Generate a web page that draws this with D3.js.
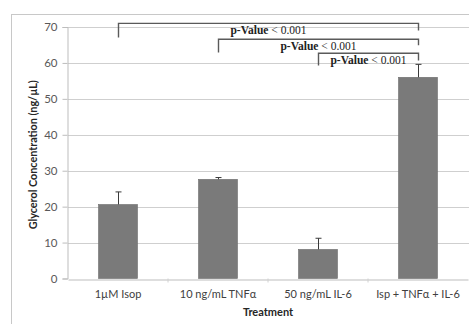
<!DOCTYPE html>
<html>
<head>
<meta charset="utf-8">
<script src="https://cdn.jsdelivr.net/npm/d3@7"></script>
<style>
  html, body { margin: 0; padding: 0; background: #fff; }
  svg { display: block; }
</style>
</head>
<body>
<div id="chart"></div>
<script>
// Data
const treatments = ["1µM Isop", "10 ng/mL TNFα", "50 ng/mL IL-6", "Isp + TNFα + IL-6"];
const glycerol = [20.6, 27.6, 8.1, 56.0];
const glycerolErr = [3.5, 0.5, 3.1, 3.6];
const yTicks = [0, 10, 20, 30, 40, 50, 60, 70];

// significance brackets: from, to, level of bar, left leg end, right leg end
const cmpFrom = ["1µM Isop", "10 ng/mL TNFα", "50 ng/mL IL-6"];
const cmpTo = ["Isp + TNFα + IL-6", "Isp + TNFα + IL-6", "Isp + TNFα + IL-6"];
const cmpLevel = [71.0, 66.6, 62.7];
const cmpLeftEnd = [67.1, 62.9, 59.3];
const cmpRightEnd = [69.0, 64.9, 60.7];
const cmpLabel = ["< 0.001", "< 0.001", "< 0.001"];

const W = 469, H = 324;
const margin = { top: 27, right: 1, bottom: 45.5, left: 68 };

const svg = d3.select("#chart").append("svg")
    .attr("width", W)
    .attr("height", H);

// chart area border
svg.append("rect")
    .attr("x", 11.5).attr("y", 14.5)
    .attr("width", W + 10).attr("height", H + 10)
    .attr("fill", "none")
    .attr("stroke", "#c8c8c8");

const x = d3.scaleBand()
    .domain(treatments)
    .range([margin.left, W - margin.right])
    .padding(0);

const y = d3.scaleLinear()
    .domain([0, 70])
    .range([H - margin.bottom, margin.top]);

const barW = x.bandwidth() * 0.39;

// gridlines
svg.append("g")
    .selectAll("line")
    .data(yTicks.filter(d => d > 0))
    .join("line")
    .attr("x1", margin.left).attr("x2", W)
    .attr("y1", d => Math.round(y(d)) + 0.5)
    .attr("y2", d => Math.round(y(d)) + 0.5)
    .attr("stroke", "#cfcfcf");

// y axis
const yAxis = d3.axisLeft(y).tickValues(yTicks).tickSize(5).tickPadding(5);
const gy = svg.append("g")
    .attr("transform", `translate(${margin.left - 0.5},0)`)
    .call(yAxis);
gy.select(".domain").attr("stroke", "#bdbdbd");
gy.selectAll(".tick line").attr("stroke", "#bdbdbd");
gy.selectAll(".tick text")
    .attr("fill", "#595959")
    .style("font-family", "Lato, 'Open Sans', sans-serif")
    .style("font-size", "11.5px");

// x axis
const xAxis = d3.axisBottom(x).tickSize(0).tickPadding(11);
const gx = svg.append("g")
    .attr("transform", `translate(0,${Math.round(y(0)) + 0.5})`)
    .call(xAxis);
gx.select(".domain").attr("stroke", "#bdbdbd");
gx.selectAll(".tick text")
    .attr("fill", "#404040")
    .style("font-family", "Lato, 'Open Sans', sans-serif")
    .style("font-size", "11px");

// minor separators between categories
svg.append("g")
    .selectAll("line")
    .data(treatments.slice(1))
    .join("line")
    .attr("x1", d => x(d)).attr("x2", d => x(d))
    .attr("y1", y(0)).attr("y2", y(0) + 4)
    .attr("stroke", "#d0d0d0");

// bars
svg.append("g")
    .selectAll("rect")
    .data(treatments)
    .join("rect")
    .attr("x", (d, i) => x(d) + x.bandwidth() / 2 - barW / 2)
    .attr("y", (d, i) => y(glycerol[i]))
    .attr("width", barW)
    .attr("height", (d, i) => y(0) - y(glycerol[i]))
    .attr("fill", "#7a7a7a")
    .attr("stroke", "#6e6e6e")
    .attr("stroke-width", 0.6);

// error bars (upper only)
const errG = svg.append("g").attr("stroke", "#3a3a3a").attr("stroke-width", 1);
treatments.forEach((d, i) => {
    const cx = Math.round(x(d) + x.bandwidth() / 2) + 0.5;
    errG.append("line")
        .attr("x1", cx).attr("x2", cx)
        .attr("y1", y(glycerol[i])).attr("y2", y(glycerol[i] + glycerolErr[i]));
    errG.append("line")
        .attr("x1", cx - 3).attr("x2", cx + 3)
        .attr("y1", y(glycerol[i] + glycerolErr[i])).attr("y2", y(glycerol[i] + glycerolErr[i]));
});

// significance brackets
const brG = svg.append("g");
cmpFrom.forEach((f, i) => {
    const x1 = Math.round(x(f) + x.bandwidth() / 2) + 0.5;
    const x2 = Math.round(x(cmpTo[i]) + x.bandwidth() / 2) + 0.5;
    brG.append("path")
        .attr("d", `M${x1},${y(cmpLeftEnd[i])}V${y(cmpLevel[i])}H${x2}V${y(cmpRightEnd[i])}`)
        .attr("fill", "none")
        .attr("stroke", "#5a5a5a")
        .attr("stroke-width", 1.4);
    const t = brG.append("text")
        .attr("x", (x1 + x2) / 2)
        .attr("y", y(cmpLevel[i]) + 10.5)
        .attr("text-anchor", "middle")
        .attr("fill", "#222")
        .style("font-family", "'Liberation Serif', 'DejaVu Serif', serif")
        .style("font-size", "11.5px");
    t.append("tspan").attr("font-weight", "bold").text("p-Value ");
    t.append("tspan").text(cmpLabel[i]);
});

// axis titles
svg.append("text")
    .attr("transform", `translate(37,${(y(0) + y(70)) / 2 + 2}) rotate(-90)`)
    .attr("text-anchor", "middle")
    .attr("fill", "#262626")
    .style("font-family", "Lato, 'Open Sans', sans-serif")
    .style("font-weight", "bold")
    .style("font-size", "10.8px")
    .text("Glycerol Concentration (ng/µL)");

svg.append("text")
    .attr("x", 268)
    .attr("y", 316)
    .attr("text-anchor", "middle")
    .attr("fill", "#262626")
    .style("font-family", "Lato, 'Open Sans', sans-serif")
    .style("font-weight", "bold")
    .style("font-size", "11px")
    .text("Treatment");
</script>
</body>
</html>
